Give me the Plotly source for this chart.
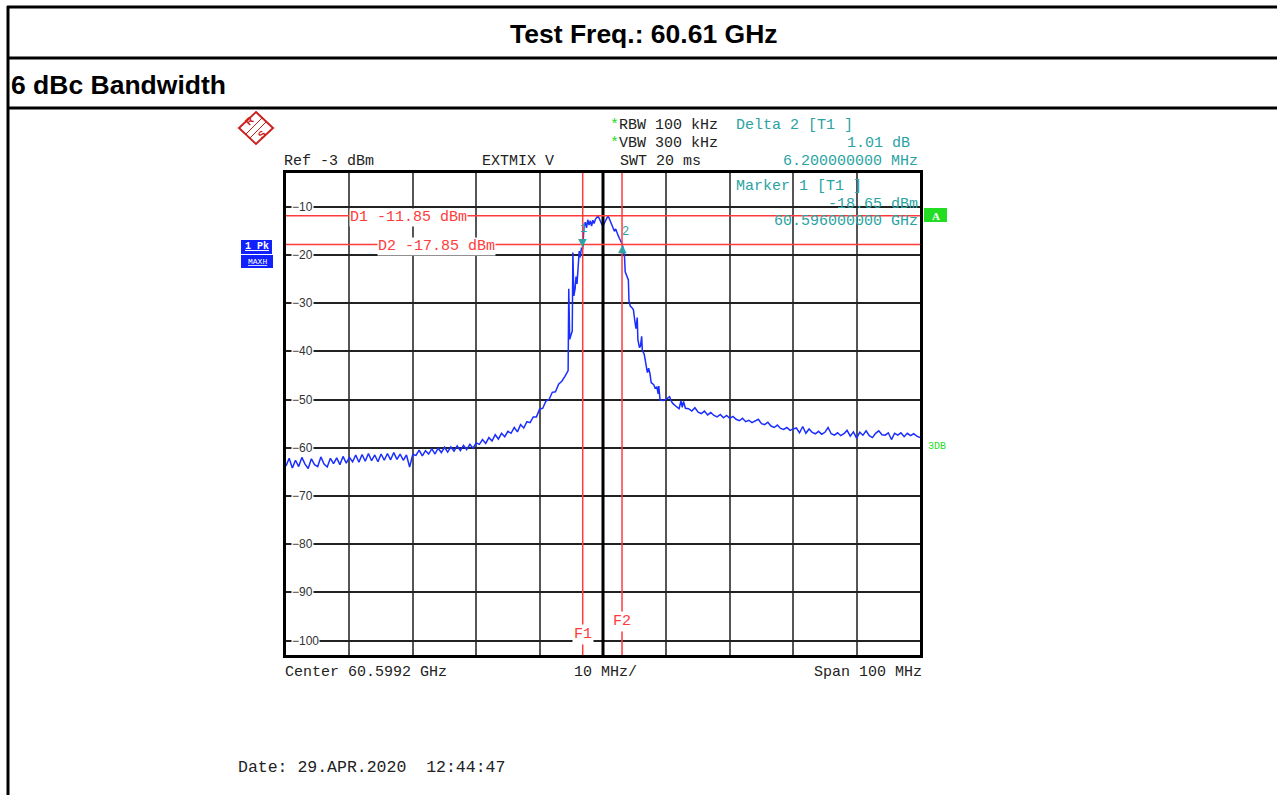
import plotly.graph_objects as go

# ---------------- data ----------------
CENTER_GHZ = 60.5992
SPAN_MHZ = 100
REF_DBM = -3
DIV_MHZ = 10

freq_offset_mhz = [
    -50.0, -49.5, -49.0, -48.5, -48.0, -47.5, -47.0, -46.5, -46.0, -45.5,
    -45.0, -44.5, -44.0, -43.5, -43.0, -42.5, -42.0, -41.5, -41.0, -40.5,
    -40.0, -39.5, -39.0, -38.5, -38.0, -37.5, -37.0, -36.5, -36.0, -35.5,
    -35.0, -34.5, -34.0, -33.5, -33.0, -32.5, -32.0, -31.5, -31.0, -30.5,
    -30.0,
    -29.5, -29.0, -28.5, -28.0, -27.5, -27.0, -26.5, -26.0, -25.5, -25.0,
    -24.5, -24.0, -23.5, -23.0, -22.5, -22.0, -21.5, -21.0, -20.5, -20.0,
    -19.5, -19.0, -18.5, -18.0, -17.5, -17.0, -16.5, -16.0, -15.5, -15.0,
    -14.5, -14.0, -13.5, -13.0, -12.5, -12.0, -11.5, -11.0, -10.5, -10.0,
    -9.5, -9.0, -8.5, -8.0, -7.5, -7.0, -6.5,
    -6.0, -5.75, -5.5, -5.4, -5.25, -5.0, -4.85, -4.75, -4.6, -4.4,
    -4.25, -4.1, -3.9, -3.75, -3.6, -3.4, -3.2, -3.0, -2.8, -2.6,
    -2.4, -2.2, -2.0, -1.8, -1.6, -1.4, -1.2, -1.0, -0.8, -0.6,
    -0.4, -0.2, 0.0, 0.2, 0.4, 0.6, 0.8, 1.0, 1.2, 1.4,
    1.6, 1.8, 2.0, 2.2, 2.4, 2.6, 2.8, 3.0, 3.2, 3.4,
    3.5, 3.75, 4.0, 4.1, 4.3, 4.6, 4.8, 5.0, 5.2, 5.4,
    5.5, 5.75, 5.9, 6.1, 6.2, 6.5, 6.75, 7.0, 7.2, 7.4,
    7.6, 8.0, 8.2, 8.5, 8.7, 8.8, 9.0, 9.5, 10.0, 10.5,
    10.75, 11.0, 11.5, 12.0, 12.3, 12.5, 12.7, 13.0,
    13.5, 14.0, 14.5, 15.0, 15.5, 16.0, 16.5, 17.0, 17.5, 18.0,
    18.5, 19.0, 19.5, 20.0, 20.5, 21.0, 21.5, 22.0, 22.5, 23.0,
    23.5, 24.0, 24.5, 25.0, 25.5, 26.0, 26.5, 27.0, 27.5, 28.0,
    28.5, 29.0, 29.5, 30.0, 30.5, 31.0, 31.5, 32.0, 32.5, 33.0,
    33.5, 34.0, 34.5, 35.0, 35.5, 36.0, 36.5, 37.0, 37.5, 38.0,
    38.5, 39.0, 39.5, 40.0, 40.5, 41.0, 41.5, 42.0, 42.5, 43.0,
    43.5, 44.0, 44.5, 45.0, 45.5, 46.0, 46.5, 47.0, 47.5, 48.0,
    48.5, 49.0, 49.5, 50.0,
]

level_dbm = [
    -63.8, -62.2, -64.2, -62.6, -63.9, -62.0, -63.4, -64.3, -62.3, -63.5,
    -63.9, -61.9, -63.4, -64.0, -62.2, -63.3, -62.1, -63.5, -61.8, -63.2,
    -62.0, -62.9, -61.5, -63.0, -61.4, -62.8, -61.2, -62.7, -61.5, -62.9,
    -61.3, -62.6, -61.2, -62.5, -61.0, -62.4, -61.3, -62.6, -61.5, -64.0,
    -61.4,
    -61.6, -60.5, -61.7, -60.6, -61.3, -60.2, -61.3, -60.1, -61.0, -59.9,
    -60.9, -59.8, -60.7, -59.6, -60.6, -59.5, -60.4, -59.3, -60.1, -59.0,
    -59.3, -58.3, -59.1, -57.9, -58.6, -57.3, -58.2, -57.0, -57.7, -56.6,
    -57.0, -55.8, -56.7, -55.2, -55.9, -54.6, -54.8, -53.6, -53.6, -52.0,
    -51.8, -50.3, -50.0, -48.5, -48.4, -46.8, -46.2,
    -45.2, -44.6, -44.0, -27.0, -37.5, -36.4, -35.8, -19.5, -28.5, -27.0,
    -24.5, -26.0, -22.5, -19.2, -20.5, -18.6, -18.65, -14.2, -13.2, -14.4,
    -12.7, -13.8, -12.9, -14.0, -12.8, -13.5, -12.6, -12.3, -11.9, -12.4,
    -13.1, -13.6, -14.0, -13.4, -13.0, -12.2, -11.85, -12.5, -13.2, -13.6,
    -14.2, -15.1, -14.6, -15.6, -16.0, -16.6, -17.2, -17.64, -18.8, -20.5,
    -23.5, -24.2, -25.2, -29.5, -30.6, -31.0, -31.4, -33.5, -35.3, -33.0,
    -37.6, -39.2, -39.0, -36.9, -39.8, -40.6, -43.0, -44.4, -43.5, -44.6,
    -46.5, -46.9, -47.6, -47.4, -48.8, -47.2, -50.1, -50.2, -49.9, -49.4,
    -50.3, -50.8, -51.4, -51.9, -50.3, -51.6, -50.4, -51.8,
    -51.9, -52.4, -51.7, -52.6, -52.9, -52.4, -53.2, -52.7, -53.3, -53.6,
    -53.1, -53.8, -53.3, -53.9, -53.5, -54.1, -54.4, -53.9, -54.6, -54.3,
    -54.8, -54.4, -54.1, -55.0, -55.2, -54.7, -55.5, -55.8, -55.3, -56.0,
    -56.2, -55.8, -56.4, -56.1, -55.9, -56.9, -55.6, -57.0, -56.1, -56.8,
    -57.1, -56.6, -57.2, -56.8, -55.8, -57.1, -57.4, -56.9, -57.5, -57.1,
    -56.4, -57.6, -56.7, -58.0, -56.8, -57.4, -56.5, -57.5, -57.9, -57.0,
    -56.5, -57.3, -57.4, -56.9, -58.3, -57.0, -57.4, -56.9, -57.7, -57.0,
    -57.5, -57.1, -57.6, -57.9,
]

y_tick_values = [-10, -20, -30, -40, -50, -60, -70, -80, -90, -100]

d1_dbm = -11.85
d2_dbm = -17.85
f1_offset_mhz = -3.2
f2_offset_mhz = 3.0
marker1_dbm = -18.65
delta2_db = 1.01
marker1_freq_text = "60.596000000 GHz"
delta2_freq_text = "6.200000000 MHz"

# ---------------- geometry helpers (page pixels -> paper) ----------------
W, H = 1277, 795


def px(x):
    return x / W


def py(y):
    return 1 - y / H


PLOT_L, PLOT_R, PLOT_T, PLOT_B = 286, 920, 173, 655

MONO = "Liberation Mono, Courier New, monospace"
SANS = "Liberation Sans, Arial, sans-serif"
TEAL = "#2aa3a3"
RED = "#ff3b3b"
BLUE = "#1a2eff"
GREEN = "#22dd22"

fig = go.Figure()
fig.add_trace(go.Scatter(
    x=freq_offset_mhz, y=level_dbm, mode="lines",
    line=dict(color=BLUE, width=1.5), hoverinfo="skip", showlegend=False,
))

x_lo, x_hi = -SPAN_MHZ / 2, SPAN_MHZ / 2
y_hi = REF_DBM
y_lo = REF_DBM - 100

shapes = []
annotations = []

# page frame lines (report table)
for y in (7, 58, 108):
    shapes.append(dict(type="line", xref="paper", yref="paper",
                       x0=px(7), x1=px(W + 5), y0=py(y), y1=py(y),
                       line=dict(color="black", width=3)))
shapes.append(dict(type="line", xref="paper", yref="paper",
                   x0=px(8), x1=px(8), y0=py(6), y1=py(H + 5),
                   line=dict(color="black", width=3)))

# center line
shapes.append(dict(type="line", xref="x", yref="y", x0=0, x1=0, y0=y_lo, y1=y_hi,
                   line=dict(color="black", width=3), layer="above"))
# display lines D1 / D2
for lv in (d1_dbm, d2_dbm):
    shapes.append(dict(type="line", xref="x", yref="y", x0=x_lo, x1=x_hi, y0=lv, y1=lv,
                       line=dict(color=RED, width=1.5), layer="above"))
# frequency lines F1 / F2
for fv in (f1_offset_mhz, f2_offset_mhz):
    shapes.append(dict(type="line", xref="x", yref="y", x0=fv, x1=fv, y0=y_lo, y1=y_hi,
                       line=dict(color=RED, width=1.5), layer="above"))

# 1 PK / MAXH box
shapes.append(dict(type="rect", xref="paper", yref="paper",
                   x0=px(241), x1=px(272), y0=py(240), y1=py(254),
                   fillcolor="#1020ff", line=dict(width=0)))
shapes.append(dict(type="rect", xref="paper", yref="paper",
                   x0=px(241), x1=px(273), y0=py(255), y1=py(268),
                   fillcolor="#1020ff", line=dict(width=0)))
# A box
shapes.append(dict(type="rect", xref="paper", yref="paper",
                   x0=px(924), x1=px(947), y0=py(208), y1=py(222),
                   fillcolor=GREEN, line=dict(width=0)))
# R&S logo diamond
cx, cy, hw, hh = 256, 128, 17, 16
path = "M {} {} L {} {} L {} {} L {} {} Z".format(
    px(cx), py(cy - hh), px(cx + hw), py(cy), px(cx), py(cy + hh), px(cx - hw), py(cy))
shapes.append(dict(type="path", xref="paper", yref="paper", path=path,
                   line=dict(color="#cc2020", width=2)))
for off in (-2, 2):
    shapes.append(dict(type="line", xref="paper", yref="paper",
                       x0=px(cx - 9 + off), y0=py(cy + 9 + off),
                       x1=px(cx + 9 + off), y1=py(cy - 9 + off),
                       line=dict(color="#cc2020", width=1)))


def txt(x, y, s, size=15, color="#222", font=MONO, xanchor="left", **kw):
    d = dict(xref="paper", yref="paper", x=px(x), y=py(y), text=s, showarrow=False,
             xanchor=xanchor, yanchor="middle",
             font=dict(family=font, size=size, color=color))
    d.update(kw)
    annotations.append(d)


# report headings
txt(644, 34, "<b>Test Freq.: 60.61 GHz</b>", size=26.5, color="black", font=SANS, xanchor="center")
txt(9, 85, "<b>6 dBc Bandwidth</b>", size=26.5, color="black", font=SANS)

# instrument header
txt(608, 126, "<span style='color:%s'>*</span>RBW 100 kHz" % GREEN)
txt(608, 144, "<span style='color:%s'>*</span>VBW 300 kHz" % GREEN)
txt(282, 162, "Ref %d dBm" % REF_DBM)
txt(480, 162, "EXTMIX V")
txt(618, 162, "SWT 20 ms")
txt(734, 126, "Delta 2 [T1 ]", color=TEAL)
txt(912, 144, "%.2f dB" % delta2_db, color=TEAL, xanchor="right")
txt(920, 162, delta2_freq_text, color=TEAL, xanchor="right")
txt(734, 187, "Marker 1 [T1 ]", color=TEAL)
txt(920, 205, "%.2f dBm" % marker1_dbm, color=TEAL, xanchor="right")
txt(920, 222, marker1_freq_text, color=TEAL, xanchor="right")

# footer under the plot
txt(283, 672, "Center %.4f GHz" % CENTER_GHZ)
txt(605, 672, "%d MHz/" % DIV_MHZ, xanchor="center")
txt(924, 672, "Span %d MHz" % SPAN_MHZ, xanchor="right")
txt(236, 767, "Date: 29.APR.2020  12:44:47", size=16.5)

# side boxes text
txt(256.5, 247, "<b><u>1 Pk</u></b>", size=10, color="white", font=MONO, xanchor="center")
txt(257, 262, "<u>MAXH</u>", size=8, color="white", font=MONO, xanchor="center")
txt(935.5, 215.5, "<b>A</b>", size=11, color="white", font="Liberation Serif", xanchor="center")
txt(937, 446, "3DB", size=10, color=GREEN, font=MONO, xanchor="center")
txt(250, 121, "<b>R</b>", size=10, color="#cc2020", font=SANS, xanchor="center", textangle=-45)
txt(262, 135, "<b>S</b>", size=10, color="#cc2020", font=SANS, xanchor="center", textangle=-45)

# y tick labels (inside plot, on the grid lines)
for v in y_tick_values:
    annotations.append(dict(xref="x", yref="y", x=x_lo, y=v, text="\u2212%d" % abs(v),
                            showarrow=False, xanchor="left", yanchor="middle", xshift=5,
                            bgcolor="white", borderpad=0,
                            font=dict(family=SANS, size=12, color="#333")))

# D1 / D2 labels
annotations.append(dict(xref="x", yref="y", x=-40.0, y=d1_dbm, yshift=-2,
                        text="D1 %.2f dBm" % d1_dbm, showarrow=False, xanchor="left",
                        yanchor="middle", bgcolor="white", borderpad=0,
                        font=dict(family=MONO, size=15, color=RED)))
annotations.append(dict(xref="x", yref="y", x=-35.6, y=d2_dbm, yshift=-2,
                        text="D2 %.2f dBm" % d2_dbm, showarrow=False, xanchor="left",
                        yanchor="middle", bgcolor="white", borderpad=0,
                        font=dict(family=MONO, size=15, color=RED)))
# F1 / F2 labels
annotations.append(dict(xref="x", yref="y", x=f1_offset_mhz, y=-98.8, text="F1",
                        showarrow=False, xanchor="center", yanchor="middle",
                        bgcolor="white", borderpad=1,
                        font=dict(family=MONO, size=15, color=RED)))
annotations.append(dict(xref="x", yref="y", x=f2_offset_mhz, y=-96.1, text="F2",
                        showarrow=False, xanchor="center", yanchor="middle",
                        bgcolor="white", borderpad=1,
                        font=dict(family=MONO, size=15, color=RED)))

# markers
m2_level = marker1_dbm + delta2_db
annotations.append(dict(xref="x", yref="y", x=f1_offset_mhz, y=marker1_dbm, yshift=6,
                        text="\u25bc", showarrow=False, xanchor="center", yanchor="middle",
                        font=dict(family="DejaVu Sans", size=11, color=TEAL)))
annotations.append(dict(xref="x", yref="y", x=f1_offset_mhz, y=marker1_dbm, yshift=19, xshift=1,
                        text="1", showarrow=False, xanchor="center", yanchor="middle",
                        font=dict(family=MONO, size=12, color=TEAL)))
annotations.append(dict(xref="x", yref="y", x=f2_offset_mhz, y=m2_level, yshift=-5,
                        text="\u25b2", showarrow=False, xanchor="center", yanchor="middle",
                        font=dict(family="DejaVu Sans", size=11, color=TEAL)))
annotations.append(dict(xref="x", yref="y", x=f2_offset_mhz, y=m2_level, yshift=12, xshift=3,
                        text="2", showarrow=False, xanchor="center", yanchor="middle",
                        font=dict(family=MONO, size=12, color=TEAL)))

fig.update_layout(
    width=W, height=H, margin=dict(l=0, r=0, t=0, b=0),
    paper_bgcolor="white", plot_bgcolor="white",
    showlegend=False,
    shapes=shapes, annotations=annotations,
    xaxis=dict(domain=[px(PLOT_L), px(PLOT_R)], range=[x_lo, x_hi],
               tick0=0, dtick=DIV_MHZ, showticklabels=False, ticks="",
               showgrid=True, gridcolor="#555", gridwidth=1.5, zeroline=False,
               showline=True, linecolor="black", linewidth=3, mirror=True, fixedrange=True),
    yaxis=dict(domain=[py(PLOT_B), py(PLOT_T)], range=[y_lo, y_hi],
               tick0=-100, dtick=10, showticklabels=False, ticks="",
               showgrid=True, gridcolor="#222", gridwidth=1.5, zeroline=False,
               showline=True, linecolor="black", linewidth=3, mirror=True, fixedrange=True),
)

fig.write_html("out.html", config={"displayModeBar": False},
               post_script="document.body.style.margin='0';document.body.style.overflow='hidden';")
